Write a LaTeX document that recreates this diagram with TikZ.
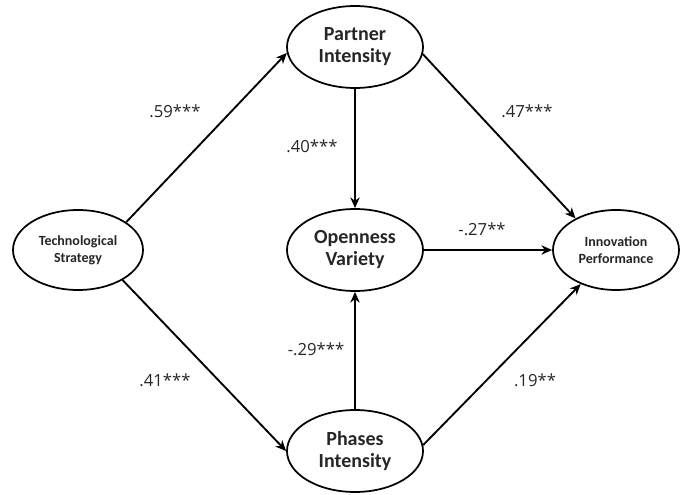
\documentclass[tikz,border=0pt]{standalone}
\usepackage{fontspec}
\setmainfont{Carlito}
\newfontfamily\coeffont{Open Sans}
\usepackage{tikz}
\usetikzlibrary{shapes.geometric, arrows.meta}
\definecolor{clrLn}{RGB}{0,0,0}
\definecolor{clrTx}{RGB}{38,38,38}
\tikzset{
  latent/.style={ellipse, draw=clrLn, line width=1.3pt, fill=white, inner sep=0pt,
    minimum width=102pt, minimum height=61.5pt, align=center, text=clrTx,
    font=\fontsize{15}{16.5}\selectfont\bfseries},
  latentsm/.style={latent, minimum width=97.5pt, minimum height=60pt,
    font=\fontsize{10.5}{12.5}\selectfont\bfseries},
  arrw/.style={-{Stealth[length=8pt,width=7pt,inset=2.5pt]}, line width=1.4pt, color=clrLn},
  coef/.style={font=\coeffont\fontsize{12.5}{14}\selectfont, text=clrTx, inner sep=1pt},
}
\begin{document}
\begin{tikzpicture}[x=0.75pt,y=-0.75pt]
\useasboundingbox (0,0) rectangle (681,495);
% constructs
\node[latentsm] (tech)    at (78,250)  {Technological\\Strategy};
\node[latent]   (partner) at (355,47)  {Partner\\Intensity};
\node[latent]   (open)    at (355,250) {Openness\\Variety};
\node[latent]   (phases)  at (355,451) {Phases\\Intensity};
\node[latentsm, minimum width=94.5pt] (innov) at (616,250) {Innovation\\Performance};
% paths
\draw[arrw] (tech.30)     -- (partner.185);
\draw[arrw] (tech.-34)    -- (phases.180);
\draw[arrw] (partner.354) -- (innov.142);
\draw[arrw] (partner)     -- (open);
\draw[arrw] (phases)      -- (open);
\draw[arrw] (open)        -- (innov);
\draw[arrw] (phases.5)    -- (innov.224);
% coefficients
\node[coef] (c59) at (175,111) {.59***};
\node[coef] (c40) at (312,146) {.40***};
\node[coef] (c47) at (527,111) {.47***};
\node[coef] (c27) at (482,229) {-.27**};
\node[coef] (c41) at (165,380) {.41***};
\node[coef] (c29) at (316,349) {-.29***};
\node[coef] (c19) at (535,380) {.19**};
\end{tikzpicture}
\end{document}
